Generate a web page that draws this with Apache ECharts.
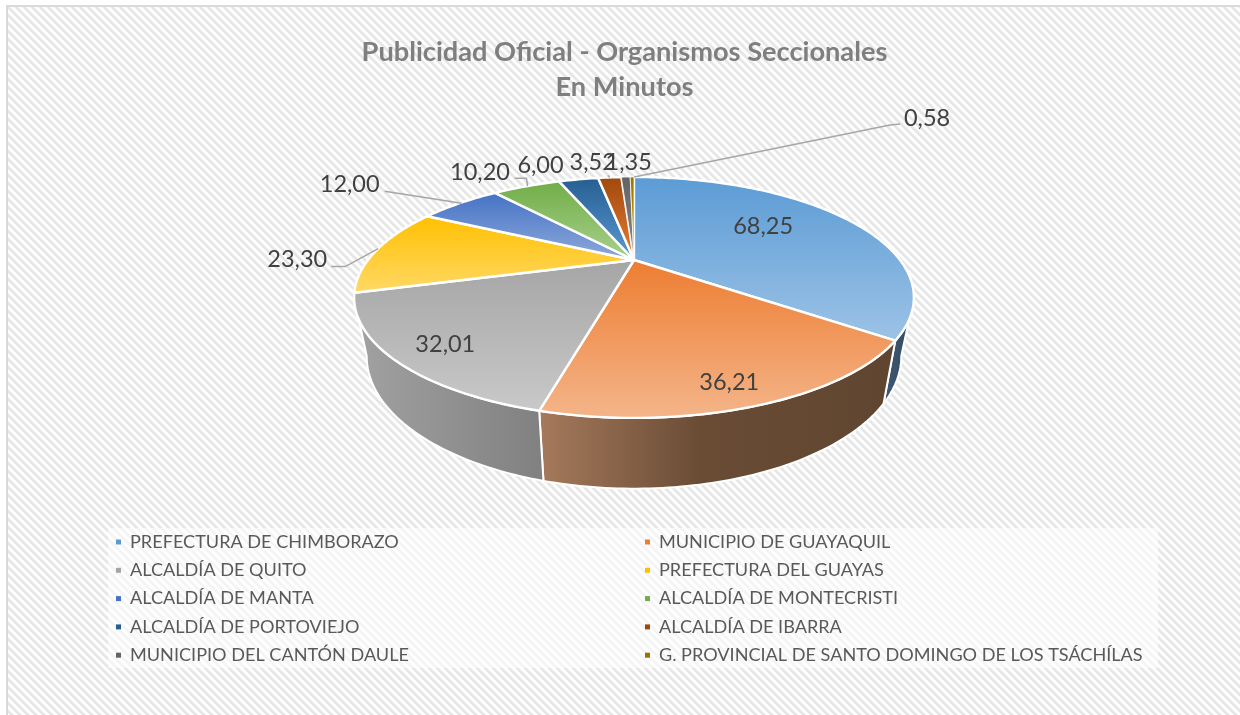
<!DOCTYPE html>
<html><head><meta charset="utf-8">
<style>html,body{margin:0;padding:0;background:#fff}#c{width:1240px;height:715px}</style>
<script src="https://cdn.jsdelivr.net/npm/echarts@6/dist/echarts.min.js"></script>
</head><body><div id="c"></div>
<script>
// ---- data ----
const categories = ['PREFECTURA DE CHIMBORAZO','MUNICIPIO DE GUAYAQUIL','ALCALDÍA DE QUITO','PREFECTURA DEL GUAYAS','ALCALDÍA DE MANTA','ALCALDÍA DE MONTECRISTI','ALCALDÍA DE PORTOVIEJO','ALCALDÍA DE IBARRA','MUNICIPIO DEL CANTÓN DAULE','G. PROVINCIAL DE SANTO DOMINGO DE LOS TSÁCHÍLAS'];
const values = [68.25,36.21,32.01,23.30,12.00,10.20,6.00,3.52,1.35,0.58];
const labels = ['68,25','36,21','32,01','23,30','12,00','10,20','6,00','3,52','1,35','0,58'];
const titleLines = ['Publicidad Oficial - Organismos Seccionales','En Minutos'];
// ---- styles ----
const palette = ['#5b9bd5','#ed7d31','#a5a5a5','#ffc000','#4472c4','#70ad47','#255e91','#9e480e','#636363','#997300'];
const topEnd = ['#9dc3e6','#f4b58a','#c9c9c9','#ffd966','#8faadc','#a9d18e','#5b9bd5','#ed7d31','#8a8a8a','#cfa400'];
const sideStops = [['#3f5a75','#34485c'],['#a67a5c','#5f4530'],['#a2a2a2','#808080'],['#8a6a00','#8a6a00'],['#2f4a7a','#2f4a7a'],['#4a7a30','#4a7a30'],['#1a4265','#1a4265'],['#6a300a','#6a300a'],['#444444','#444444'],['#6a5000','#6a5000']];
// label offset from each slice's mid-rim point, and its leader polyline (offsets too)
const labelOffset = [[-80,9],[-29,-23],[50,-16],[-80,9.5],[-110,-19],[-46.5,-14],[-38,-14],[-17,-15],[3,-15],[295,-59]];
const leaderOffset = [null,null,null,[[1,-1],[-32,17],[-46,17]],[[2,0],[-75,-12]],[[1,0],[0,-8],[-12,-8]],null,[[0,0],[-2,-2]],null,[[2,0],[258,-52],[268,-53]]];
// ---- projection of the tilted disc ----
const apex = [634,260], K = -0.311, BX = 266, AY = 108.8;
const floorApexY = 315, floorSX = 0.955, floorSY = 1.1;
const visibleFrom = 108, visibleTo = 252;
const total = values.reduce((a,b)=>a+b,0);
let run = 0;
const bounds = values.map(v=>{const s=run; run+=v; return [s/total*360, run/total*360];});
function proj(deg, r, floor){
  const t = deg*Math.PI/180, u = r*Math.sin(t), v = -r*Math.cos(t), d = 1+K*v;
  const x = BX*u/d, y = AY*v/d;
  return floor ? [apex[0]+x*floorSX, floorApexY+y*floorSY] : [apex[0]+x, apex[1]+y];
}
function arc(a,b,r,floor){
  const out=[]; const n=Math.max(2,Math.ceil(Math.abs(b-a)));
  for(let i=0;i<=n;i++) out.push(proj(a+(b-a)*i/n,r,floor));
  return out;
}
function vGrad(a,b){return {type:'linear',x:0,y:0,x2:0,y2:1,colorStops:[{offset:0,color:a},{offset:1,color:b}]};}
function hGrad(a,b,i){
  const stops = i===1
    ? [{offset:0,color:a},{offset:0.45,color:'#6a4c35'},{offset:1,color:b}]
    : [{offset:0,color:a},{offset:1,color:b}];
  return {type:'linear',x:0,y:0,x2:1,y2:0,colorStops:stops};
}

const stripeShades = ['#e6e6e6','#e6e6e6','#e6e6e6','#f3f3f3','#ffffff','#ffffff','#ffffff','#f3f3f3'];
const stripe = document.createElement('canvas'); stripe.width=8; stripe.height=8;
(function(){const g=stripe.getContext('2d');
 for(let y=0;y<8;y++)for(let x=0;x<8;x++){g.fillStyle=stripeShades[(x-y+16)%8];g.fillRect(x,y,1,1);}})();

const series = [];
// top faces, one series per slice so the legend lists them
values.forEach((v,i)=>{
  series.push({type:'custom',name:categories[i],coordinateSystem:'none',z:3,silent:true,animation:false,
    data:[[i,v]],
    renderItem(){
      const [a,b]=bounds[i];
      return {type:'polygon',shape:{points:[apex].concat(arc(a,b,1,false))},
        style:{fill:vGrad(palette[i],topEnd[i]),stroke:'#fff',lineWidth:i>=8?0.8:2.4,lineJoin:'round'}};
    }});
});
// side walls
series.push({type:'custom',name:'lateral',coordinateSystem:'none',z:2,silent:true,animation:false,
  data:values.map((v,i)=>[i,v]),
  renderItem(p){
    const i=p.dataIndex,[a0,b0]=bounds[i],a=Math.max(a0,visibleFrom),b=Math.min(b0,visibleTo);
    if(b<=a) return {type:'group',children:[]};
    const pts=arc(a,b,1,false).concat(arc(b,a,1,true));
    return {type:'polygon',shape:{points:pts},style:{fill:hGrad(sideStops[i][0],sideStops[i][1],i),stroke:'#fff',lineWidth:2,lineJoin:'round'}};
  }});
// labels
series.push({type:'custom',name:'etiquetas',coordinateSystem:'none',z:4,silent:true,animation:false,
  data:values.map((v,i)=>[i,v]),
  renderItem(p){
    const i=p.dataIndex,[a,b]=bounds[i],m=proj((a+b)/2,1,false),kids=[];
    if(leaderOffset[i]) kids.push({type:'polyline',shape:{points:leaderOffset[i].map(o=>[m[0]+o[0],m[1]+o[1]])},
      style:{stroke:'#a6a6a6',lineWidth:1.5,fill:null}});
    kids.push({type:'text',style:{text:labels[i],x:m[0]+labelOffset[i][0],y:m[1]+labelOffset[i][1],align:'center',verticalAlign:'middle',
      font:'23.5px Lato',fill:'#404040'}});
    return {type:'group',children:kids};
  }});

const legendBase={orient:'vertical',icon:'rect',itemWidth:5,itemHeight:5,itemGap:8.3,top:532,padding:0,selectedMode:false,
  textStyle:{fontFamily:'Lato',fontSize:18.1,color:'#595959',lineHeight:20,padding:[0,0,0,4]}};

const chart=echarts.init(document.getElementById('c'),null,{renderer:'canvas'});
chart.setOption({
  animation:false,
  backgroundColor:{image:stripe,repeat:'repeat'},
  color:palette,
  title:{text:titleLines.join('\n'),left:619.5,top:30,textAlign:'center',
    textStyle:{fontFamily:'Lato',fontWeight:'bold',fontSize:27.2,lineHeight:35,color:'#7f7f7f'}},
  tooltip:{show:false},
  legend:[
    Object.assign({},legendBase,{left:116,data:categories.filter((c,i)=>i%2===0)}),
    Object.assign({},legendBase,{left:645,data:categories.filter((c,i)=>i%2===1)})
  ],
  graphic:[
    {type:'rect',z:0,shape:{x:0,y:0,width:1240,height:5},style:{fill:'#fff'}},
    {type:'rect',z:0,shape:{x:0,y:0,width:6,height:715},style:{fill:'#fff'}},
    {type:'rect',z:0,shape:{x:6,y:5,width:1234,height:2},style:{fill:'#d9d9d9'}},
    {type:'rect',z:0,shape:{x:6,y:5,width:2,height:710},style:{fill:'#d9d9d9'}},
    {type:'rect',z:0,shape:{x:108,y:528,width:1050,height:140},style:{fill:'rgba(255,255,255,0.55)'}}
  ],
  series
});
</script></body></html>
